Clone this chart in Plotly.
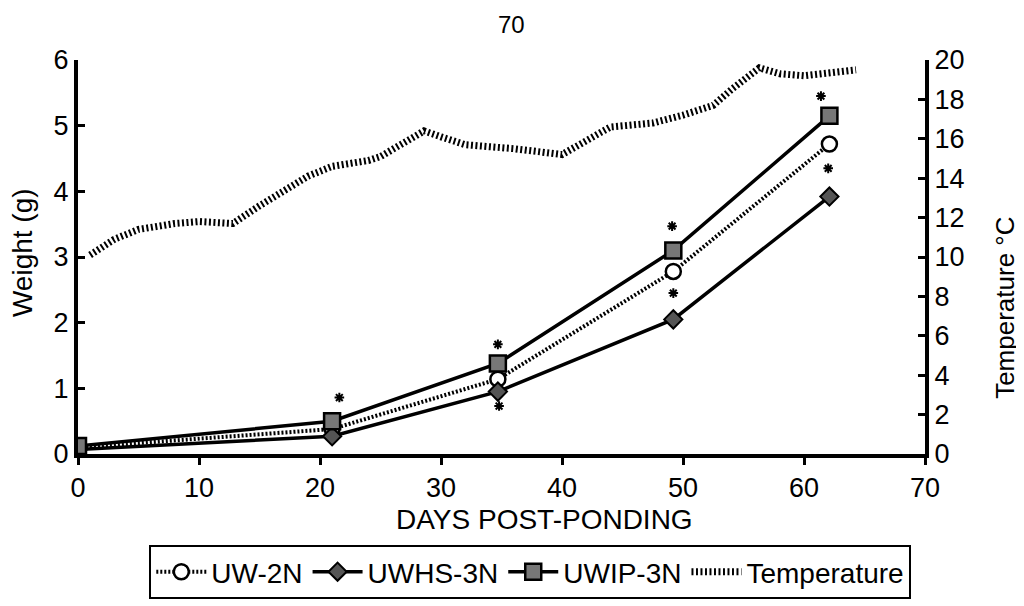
import plotly.graph_objects as go

days = [0, 21, 34.7, 49.2, 62.1]
uw2n = [0.10, 0.38, 1.14, 2.78, 4.72]
uwhs = [0.07, 0.27, 0.95, 2.05, 3.92]
uwip = [0.12, 0.50, 1.38, 3.10, 5.15]

star_days = [21.6, 34.7, 34.8, 49.1, 49.2, 61.4, 62.0]
star_wt = [0.86, 1.67, 0.73, 3.47, 2.45, 5.45, 4.35]

temp_days = [1, 3, 5, 8, 10, 12.8, 15, 17, 19, 21, 24, 25, 27, 28.6, 30, 32, 36, 40,
             42, 44, 47.5, 50, 52.5, 54, 56.3, 58, 60, 62, 64.3]
temp_c = [10.1, 10.9, 11.4, 11.7, 11.8, 11.7, 12.6, 13.3, 14.1, 14.6, 14.9, 15.1, 15.8,
          16.4, 16.1, 15.7, 15.5, 15.2, 15.9, 16.6, 16.8, 17.2, 17.7, 18.5, 19.6, 19.3,
          19.2, 19.3, 19.5]

FONT = "Liberation Sans, Arial, sans-serif"

fig = go.Figure()
fig.add_trace(go.Scatter(
    x=days, y=uw2n, name="UW-2N", mode="lines+markers",
    line=dict(color="black", width=4, dash="2px,2px"),
    marker=dict(symbol="circle", size=15, color="white", line=dict(color="black", width=2.5)),
))
fig.add_trace(go.Scatter(
    x=days, y=uwhs, name="UWHS-3N", mode="lines+markers",
    line=dict(color="black", width=3.5),
    marker=dict(symbol="diamond", size=14, color="#555555", line=dict(color="black", width=2)),
))
fig.add_trace(go.Scatter(
    x=days, y=uwip, name="UWIP-3N", mode="lines+markers",
    line=dict(color="black", width=3.5),
    marker=dict(symbol="square", size=16, color="#777777", line=dict(color="black", width=2.5)),
))
fig.add_trace(go.Scatter(
    x=temp_days, y=temp_c, name="Temperature", mode="lines", yaxis="y2",
    line=dict(color="black", width=7, dash="2px,2.5px"),
))
fig.add_trace(go.Scatter(
    x=star_days, y=star_wt, mode="markers", showlegend=False,
    marker=dict(symbol="asterisk", size=8, color="black", line=dict(color="black", width=2)),
))

axis_common = dict(showgrid=False, zeroline=False, automargin=False,
                   showline=True, linecolor="black", linewidth=4,
                   ticklen=7, tickwidth=3, tickcolor="black", tickfont=dict(size=27))

fig.update_layout(
    width=1024, height=606,
    margin=dict(l=70, r=107, t=52, b=160),
    paper_bgcolor="white", plot_bgcolor="white",
    font=dict(family=FONT, size=27, color="black"),
    xaxis=dict(range=[0, 70], dtick=10, ticks="outside", **axis_common),
    yaxis=dict(range=[0, 6], dtick=1, ticks="inside", **axis_common),
    yaxis2=dict(range=[0, 20], dtick=2, overlaying="y", side="right", ticks="inside",
                **axis_common),
    legend=dict(orientation="h", x=0.534, xanchor="center", y=-0.231, yanchor="top",
                bordercolor="black", borderwidth=2, font=dict(size=28),
                itemwidth=50, tracegroupgap=0),
    annotations=[
        dict(text="70", x=0.512, y=1.127, xref="paper", yref="paper", showarrow=False,
             xanchor="center", yanchor="top", borderpad=0, font=dict(size=24)),
        dict(text="DAYS POST-PONDING", x=0.551, y=-0.1675, xref="paper", yref="paper",
             showarrow=False, xanchor="center", yanchor="middle", font=dict(size=28)),
        dict(text="Weight (g)", x=-0.0661, y=0.51, xref="paper", yref="paper",
             showarrow=False, textangle=-90, xanchor="center", yanchor="middle",
             font=dict(size=28)),
        dict(text="Temperature °C", x=1.0945, y=0.371, xref="paper", yref="paper",
             showarrow=False, textangle=-90, xanchor="center", yanchor="middle",
             font=dict(size=26)),
    ],
)

fig.write_html("out.html")
